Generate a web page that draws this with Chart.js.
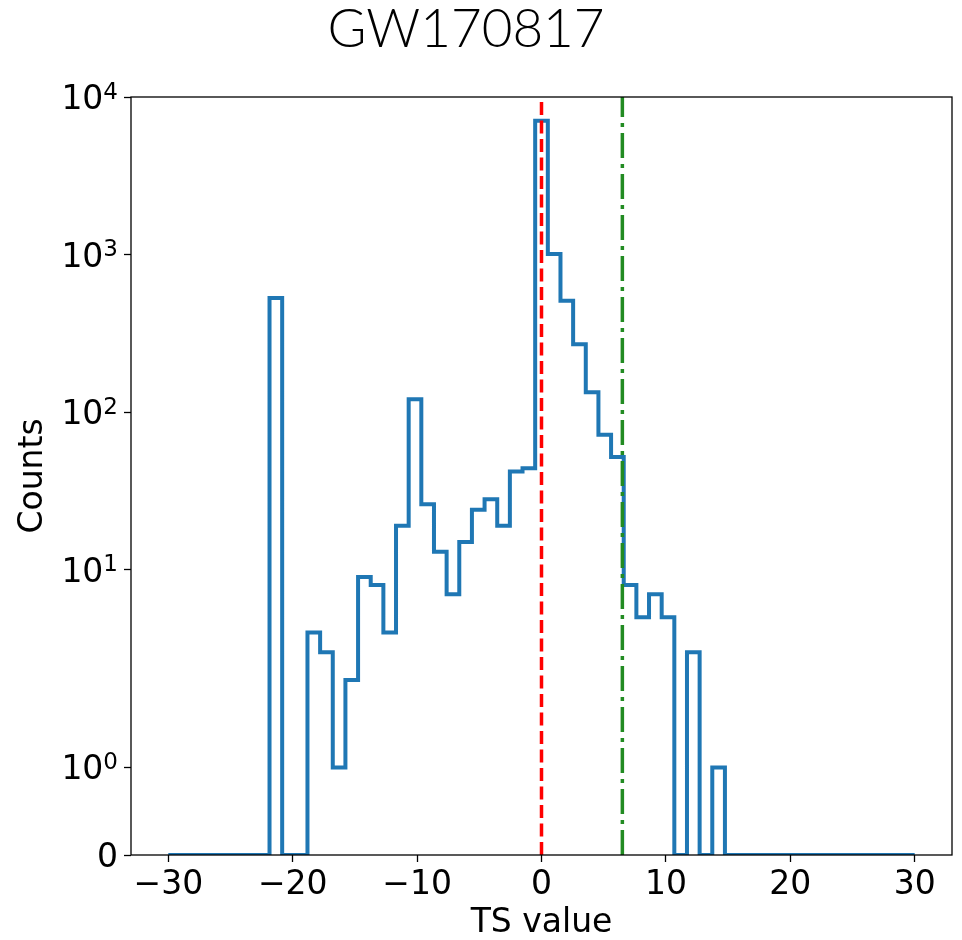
<!DOCTYPE html>
<html><head><meta charset="utf-8">
<script src="https://cdn.jsdelivr.net/npm/chart.js@4.4.1/dist/chart.umd.min.js"></script>
<style>html,body{margin:0;padding:0;background:#fff;}canvas{display:block;}</style>
</head><body>
<canvas id="c" width="962" height="940"></canvas>
<script>
// ---- data ----
const titleText = 'GW170817';
const xAxisLabel = 'TS value';
const yAxisLabel = 'Counts';
const histRange = [-30, 30];
const nBins = 59;
const counts = [
  0, 0, 0, 0, 0, 0, 0, 0,
  530, 0, 0, 4, 3, 1, 2, 9, 8, 4, 19, 121, 26, 13, 7, 15, 24, 28, 19, 42, 44,
  7080, 1010, 510, 270, 134, 72, 52, 8, 5, 7, 5, 0, 3, 0, 1,
  0, 0, 0, 0, 0, 0, 0, 0, 0, 0, 0, 0, 0, 0, 0
];
const redLineX = 0;
const greenLineX = 6.5;
const xTickValues = [-30, -20, -10, 0, 10, 20, 30];
const yTickValues = [0, 1, 10, 100, 1000, 10000];
const yTickLabels = ['0', '10^0', '10^1', '10^2', '10^3', '10^4'];
const xLimits = [-33, 33];
const yLimits = [0, 10000];
const linthresh = 2;

// ---- symlog transform (linscale = 1, base 10) ----
const linscaleAdj = 1 / (1 - 1 / 10);
function symlog(v) {
  const a = Math.abs(v);
  const t = a <= linthresh ? a / linthresh * linscaleAdj : linscaleAdj + Math.log10(a / linthresh);
  return v < 0 ? -t : t;
}

// histogram step outline (matplotlib histtype='step')
const edges = [];
for (let k = 0; k <= nBins; k++) edges.push(histRange[0] + k * (histRange[1] - histRange[0]) / nBins);
const stepPts = [{x: edges[0], y: symlog(0)}];
counts.forEach((c, k) => {
  stepPts.push({x: edges[k], y: symlog(c)});
  stepPts.push({x: edges[k + 1], y: symlog(c)});
});
stepPts.push({x: edges[nBins], y: symlog(0)});

const yTop = symlog(yLimits[1]);
const vline = (x) => [{x: x, y: symlog(yLimits[0])}, {x: x, y: yTop}];

const tickFont = {family: 'DejaVu Sans', size: 33};

const framePlugin = {
  id: 'frame',
  afterDatasetsDraw(chart) {
    const {ctx, chartArea: a} = chart;
    ctx.save();
    ctx.strokeStyle = '#000';
    ctx.lineWidth = 1.3;
    ctx.strokeRect(a.left, a.top, a.right - a.left, a.bottom - a.top);
    ctx.restore();
  },
  afterDraw(chart) {
    const ctx = chart.ctx;
    const ys = chart.scales.y;
    ctx.save();
    ctx.fillStyle = '#000';
    // title
    ctx.font = '300 53px Lato';
    ctx.textAlign = 'center';
    ctx.textBaseline = 'alphabetic';
    ctx.fillText(titleText, 466, 47);
    // y tick labels with mathtext-like superscripts
    const xr = ys.right - 7 - 6;
    yTickValues.forEach((v, i) => {
      const py = ys.getPixelForValue(symlog(v));
      const base = py + 12;
      const parts = yTickLabels[i].split('^');
      ctx.textAlign = 'right';
      ctx.textBaseline = 'alphabetic';
      if (parts.length === 1) {
        ctx.font = '33px "DejaVu Sans"';
        ctx.fillText(parts[0], xr, base);
      } else {
        ctx.font = '23px "DejaVu Sans"';
        const ew = ctx.measureText(parts[1]).width;
        ctx.fillText(parts[1], xr, base - 10.5);
        ctx.font = '33px "DejaVu Sans"';
        ctx.fillText(parts[0], xr - ew, base);
      }
    });
    ctx.restore();
  }
};

function build() {
  new Chart(document.getElementById('c'), {
    type: 'line',
    data: {
      datasets: [
        {data: vline(redLineX), borderColor: '#ff0000', borderWidth: 3.5, borderDash: [13, 5.5], pointRadius: 0, order: 0, clip: 0, borderCapStyle: 'butt'},
        {data: vline(greenLineX), borderColor: '#228b22', borderWidth: 3.5, borderDash: [25, 6, 4, 6], pointRadius: 0, order: 0, clip: 0, borderCapStyle: 'butt'},
        {data: stepPts, borderColor: '#1f77b4', borderWidth: 4, pointRadius: 0, tension: 0, order: 1, clip: 0, borderJoinStyle: 'miter', borderCapStyle: 'butt', fill: false}
      ]
    },
    options: {
      responsive: false,
      animation: false,
      events: [],
      devicePixelRatio: 1,
      layout: {padding: {top: 97, right: 10, left: 0, bottom: 0}},
      plugins: {legend: {display: false}, tooltip: {enabled: false}, title: {display: false}},
      scales: {
        x: {
          type: 'linear', min: xLimits[0], max: xLimits[1], bounds: 'data',
          afterBuildTicks: (s) => { s.ticks = xTickValues.map(v => ({value: v})); },
          afterFit: (s) => { s.height = 85; },
          ticks: {autoSkip: false, maxRotation: 0, font: tickFont, color: '#000', padding: 4,
            callback: (v) => (v < 0 ? '\u2212' + Math.abs(v) : String(v))},
          grid: {display: true, drawOnChartArea: false, drawTicks: true, tickLength: 7, tickWidth: 1.3, tickColor: '#000'},
          border: {display: false},
          title: {display: true, text: xAxisLabel, color: '#000', font: {family: 'DejaVu Sans', size: 33, lineHeight: 1}, padding: {top: 0, bottom: 0}}
        },
        y: {
          type: 'linear', min: symlog(yLimits[0]), max: yTop, bounds: 'data',
          afterBuildTicks: (s) => { s.ticks = yTickValues.map(v => ({value: symlog(v)})); },
          afterFit: (s) => { s.width = 131; },
          ticks: {display: false, autoSkip: false},
          grid: {display: true, drawOnChartArea: false, drawTicks: true, tickLength: 7, tickWidth: 1.3, tickColor: '#000'},
          border: {display: false},
          title: {display: true, text: yAxisLabel, color: '#000', font: {family: 'DejaVu Sans', size: 33, lineHeight: 1}, padding: {top: 17, bottom: 0}}
        }
      }
    },
    plugins: [framePlugin]
  });
}
if (document.fonts && document.fonts.load) {
  Promise.all([document.fonts.load('300 53px Lato'), document.fonts.load('33px "DejaVu Sans"')]).then(build, build);
} else build();
</script>
</body></html>
